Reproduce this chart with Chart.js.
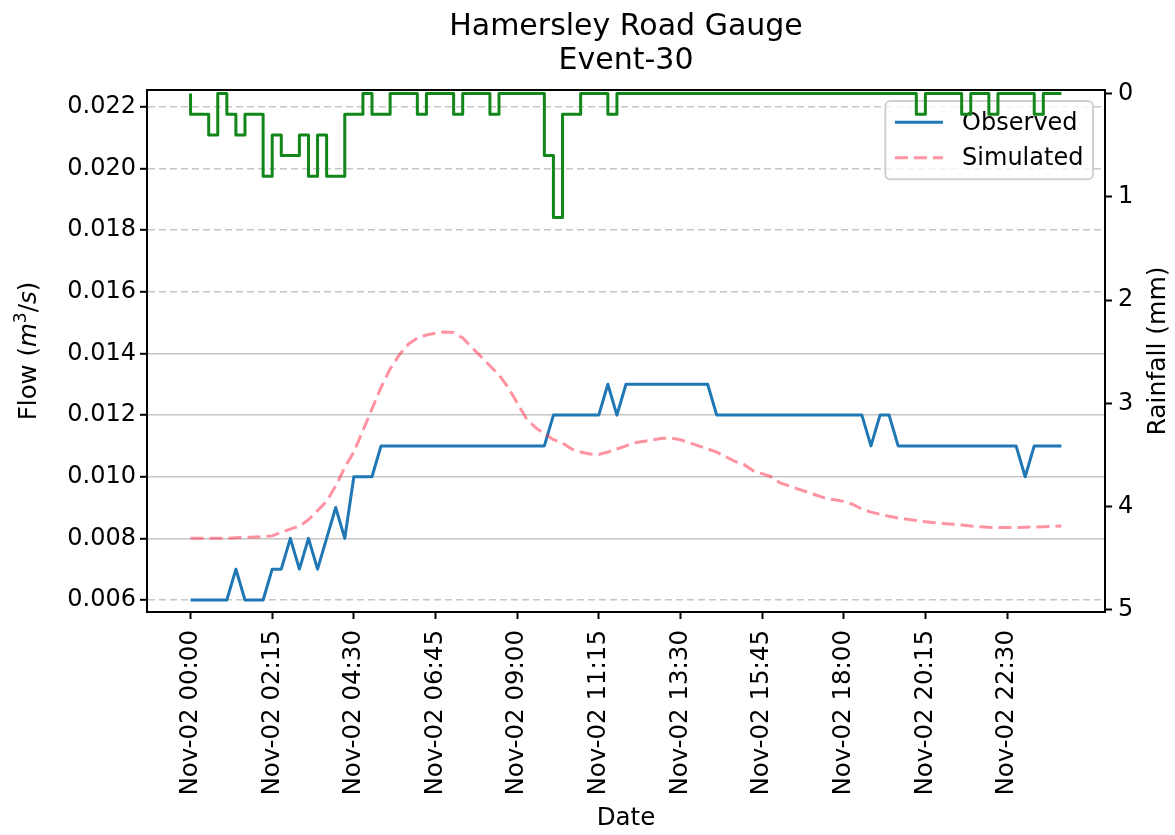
<!DOCTYPE html>
<html>
<head>
<meta charset="utf-8">
<title>Hamersley Road Gauge - Event-30</title>
<script src="https://cdn.jsdelivr.net/npm/chart.js@4.4.1/dist/chart.umd.min.js"></script>
<style>
  html, body { margin: 0; padding: 0; background: #fff; }
  #wrap { width: 1175px; height: 835px; }
</style>
</head>
<body>
<div id="wrap"><canvas id="flowChart" width="1175" height="835"></canvas></div>
<script>
// Readings every 15 minutes, Nov-02 00:00 to 24:00
const stepMinutes = 15;

// Flow (m3/s)
const observedFlow = [
  0.006, 0.006, 0.006, 0.006, 0.006, 0.007, 0.006, 0.006, 0.006, 0.007,
  0.007, 0.008, 0.007, 0.008, 0.007, 0.008, 0.009, 0.008, 0.010, 0.010,
  0.010, 0.011, 0.011, 0.011, 0.011, 0.011, 0.011, 0.011, 0.011, 0.011,
  0.011, 0.011, 0.011, 0.011, 0.011, 0.011, 0.011, 0.011, 0.011, 0.011,
  0.012, 0.012, 0.012, 0.012, 0.012, 0.012, 0.013, 0.012, 0.013, 0.013,
  0.013, 0.013, 0.013, 0.013, 0.013, 0.013, 0.013, 0.013, 0.012, 0.012,
  0.012, 0.012, 0.012, 0.012, 0.012, 0.012, 0.012, 0.012, 0.012, 0.012,
  0.012, 0.012, 0.012, 0.012, 0.012, 0.011, 0.012, 0.012, 0.011, 0.011,
  0.011, 0.011, 0.011, 0.011, 0.011, 0.011, 0.011, 0.011, 0.011, 0.011,
  0.011, 0.011, 0.010, 0.011, 0.011, 0.011, 0.011
];

const simulatedFlow = [
  0.0080, 0.0080, 0.0080, 0.0080, 0.0080, 0.00802, 0.00803, 0.00804, 0.00806, 0.00808,
  0.0082, 0.0083, 0.0084, 0.0086, 0.0089, 0.0092, 0.0097, 0.0103, 0.0108, 0.0115,
  0.0122, 0.0129, 0.0135, 0.01395, 0.0143, 0.0145, 0.0146, 0.01466, 0.0147, 0.01468,
  0.0145, 0.0142, 0.0139, 0.0136, 0.0133, 0.0129, 0.0124, 0.0119, 0.0116, 0.0114,
  0.0112, 0.0111, 0.0109, 0.0108, 0.01074, 0.01072, 0.0108, 0.0109, 0.0110, 0.0111,
  0.01115, 0.0112, 0.01125, 0.01125, 0.0112, 0.0111, 0.0110, 0.0109, 0.0108, 0.01065,
  0.0105, 0.0104, 0.0102, 0.0101, 0.0100, 0.0098, 0.0097, 0.0096, 0.0095, 0.0094,
  0.0093, 0.00925, 0.0092, 0.0091, 0.00895, 0.00885, 0.00878, 0.00872, 0.00866, 0.00862,
  0.00858, 0.00854, 0.00851, 0.00848, 0.00846, 0.00843, 0.0084, 0.00838, 0.00836, 0.00835,
  0.00835, 0.00835, 0.00836, 0.00837, 0.00838, 0.00839, 0.0084
];

// Rainfall (mm) in each 15-minute interval ending at the reading
const rainfall = [
  0, 0.2, 0.2, 0.4, 0, 0.2, 0.4, 0.2, 0.2, 0.8,
  0.4, 0.6, 0.6, 0.4, 0.8, 0.4, 0.8, 0.8, 0.2, 0.2,
  0, 0.2, 0.2, 0, 0, 0, 0.2, 0, 0, 0,
  0.2, 0, 0, 0, 0.2, 0, 0, 0, 0, 0,
  0.6, 1.2, 0.2, 0.2, 0, 0, 0, 0.2, 0, 0,
  0, 0, 0, 0, 0, 0, 0, 0, 0, 0,
  0, 0, 0, 0, 0, 0, 0, 0, 0, 0,
  0, 0, 0, 0, 0, 0, 0, 0, 0, 0,
  0, 0.2, 0, 0, 0, 0, 0.2, 0, 0, 0.2,
  0, 0, 0, 0, 0.2, 0, 0
];

const flowTicks = [0.006, 0.008, 0.010, 0.012, 0.014, 0.016, 0.018, 0.020, 0.022];
const rainTicks = [0, 1, 2, 3, 4, 5];
const dateTickMinutes = [0, 135, 270, 405, 540, 675, 810, 945, 1080, 1215, 1350];
const dateTickLabels = [
  'Nov-02 00:00', 'Nov-02 02:15', 'Nov-02 04:30', 'Nov-02 06:45', 'Nov-02 09:00',
  'Nov-02 11:15', 'Nov-02 13:30', 'Nov-02 15:45', 'Nov-02 18:00', 'Nov-02 20:15',
  'Nov-02 22:30'
];

const minutes = observedFlow.map((_, i) => i * stepMinutes);
const toPoints = values => values.map((v, i) => ({ x: minutes[i], y: v }));

const FAMILY = '"DejaVu Sans", sans-serif';
const tickFont = { family: FAMILY, size: 24 };
const dateFont = { family: FAMILY, size: 24.5 };
const gridGrey = '#c6c6c6';

// rotated text made of several runs (for the mathtext-style flow label)
function drawRotatedRuns(ctx, runs, cx, cy) {
  ctx.save();
  ctx.translate(cx, cy);
  ctx.rotate(-Math.PI / 2);
  let total = 0;
  runs.forEach(r => { ctx.font = r.font; r.w = ctx.measureText(r.text).width; total += r.w; });
  let x = -total / 2;
  ctx.fillStyle = '#000';
  ctx.textAlign = 'left';
  ctx.textBaseline = 'middle';
  runs.forEach(r => { ctx.font = r.font; ctx.fillText(r.text, x, r.dy || 0); x += r.w; });
  ctx.restore();
}

function drawLegendBox(chart) {
  const ctx = chart.ctx;
  const area = chart.chartArea;
  const fs = 24;
  const pad = 0.4 * fs, spacing = 0.5 * fs, handleLen = 2 * fs, textPad = 0.8 * fs, rowH = 23.5;
  const entries = chart.data.datasets.filter(ds => ds.yAxisID === 'y');
  ctx.save();
  ctx.font = fs + 'px ' + FAMILY;
  const textW = Math.max(...entries.map(e => ctx.measureText(e.label).width));
  const w = pad * 2 + handleLen + textPad + textW;
  const h = pad * 2 + rowH * entries.length + spacing * (entries.length - 1);
  const x0 = area.right - 12 - w, y0 = area.top + 11;
  ctx.beginPath();
  ctx.roundRect(x0, y0, w, h, 5);
  ctx.fillStyle = 'rgba(255,255,255,0.8)';
  ctx.fill();
  ctx.strokeStyle = '#d0d0d0';
  ctx.lineWidth = 2;
  ctx.stroke();
  entries.forEach((ds, i) => {
    const cy = y0 + pad + rowH / 2 + i * (rowH + spacing);
    ctx.beginPath();
    ctx.setLineDash(ds.borderDash || []);
    ctx.strokeStyle = ds.borderColor;
    ctx.lineWidth = ds.borderWidth;
    ctx.moveTo(x0 + pad, cy);
    ctx.lineTo(x0 + pad + handleLen, cy);
    ctx.stroke();
    ctx.setLineDash([]);
    ctx.fillStyle = '#000';
    ctx.textAlign = 'left';
    ctx.textBaseline = 'middle';
    ctx.fillText(ds.label, x0 + pad + handleLen + textPad, cy + 1);
  });
  ctx.restore();
}

const gaugeDecor = {
  id: 'gaugeDecor',
  afterDatasetDraw(chart, args) {
    // legend sits above the flow lines but under the rainfall trace
    if (chart.data.datasets[args.index].label === 'Simulated') drawLegendBox(chart);
  },
  afterDraw(chart) {
    const ctx = chart.ctx;
    const a = chart.chartArea;
    ctx.save();
    // top spine
    ctx.strokeStyle = '#000';
    ctx.lineWidth = 2;
    ctx.beginPath();
    ctx.moveTo(a.left - 1, a.top);
    ctx.lineTo(a.right + 1, a.top);
    ctx.stroke();
    // title
    const cx = (a.left + a.right) / 2;
    ctx.fillStyle = '#000';
    ctx.textAlign = 'center';
    ctx.textBaseline = 'middle';
    ctx.font = '30px ' + FAMILY;
    ctx.fillText('Hamersley Road Gauge', cx, 27);
    ctx.fillText('Event-30', cx, 61);
    ctx.restore();

    const midY = (a.top + a.bottom) / 2;
    drawRotatedRuns(ctx, [
      { text: 'Flow (', font: '24.5px ' + FAMILY },
      { text: 'm', font: 'italic 24.5px ' + FAMILY },
      { text: '3', font: '17px ' + FAMILY, dy: -8 },
      { text: '/', font: '24.5px ' + FAMILY },
      { text: 's', font: 'italic 24.5px ' + FAMILY },
      { text: ')', font: '24.5px ' + FAMILY }
    ], 30, midY);
    drawRotatedRuns(ctx, [{ text: 'Rainfall (mm)', font: '25px ' + FAMILY }], 1158, midY);
  }
};

new Chart(document.getElementById('flowChart'), {
  type: 'line',
  data: {
    datasets: [
      {
        label: 'Observed',
        data: toPoints(observedFlow),
        yAxisID: 'y',
        borderColor: '#1f77b4',
        borderWidth: 3,
        borderJoinStyle: 'round',
        pointRadius: 0,
        order: 2
      },
      {
        label: 'Simulated',
        data: toPoints(simulatedFlow),
        yAxisID: 'y',
        borderColor: 'rgba(255, 40, 70, 0.5)',
        borderDash: [13, 6],
        borderWidth: 3,
        pointRadius: 0,
        order: 1
      },
      {
        label: 'Rainfall',
        data: toPoints(rainfall),
        yAxisID: 'rain',
        stepped: 'after',
        borderColor: '#11871a',
        borderWidth: 3,
        borderJoinStyle: 'round',
        pointRadius: 0,
        order: 0
      }
    ]
  },
  options: {
    responsive: false,
    animation: false,
    devicePixelRatio: 1,
    layout: { padding: { top: 90, left: 0, right: 0, bottom: 0 } },
    plugins: {
      legend: { display: false },
      tooltip: { enabled: false },
      title: { display: false }
    },
    scales: {
      x: {
        type: 'linear',
        position: 'bottom',
        min: -72,
        max: 1512,
        afterFit: s => { s.height = 223; },
        afterBuildTicks: s => { s.ticks = dateTickMinutes.map(v => ({ value: v })); },
        grid: { drawOnChartArea: false, drawTicks: true, tickLength: 7, tickColor: '#000', tickWidth: 2 },
        border: { color: '#000', width: 2 },
        ticks: {
          autoSkip: false,
          minRotation: 90,
          maxRotation: 90,
          padding: 11,
          color: '#000',
          font: dateFont,
          callback: (v, i) => dateTickLabels[i]
        },
        title: { display: true, text: 'Date', color: '#000', font: dateFont, padding: { top: 0, bottom: 2 } }
      },
      y: {
        position: 'left',
        min: 0.00561,
        max: 0.02255,
        afterFit: s => { s.width = 147; },
        afterBuildTicks: s => { s.ticks = flowTicks.map(v => ({ value: v })); },
        grid: {
          color: gridGrey,
          lineWidth: 1.6,
          drawTicks: true,
          tickLength: 7,
          tickColor: '#000',
          tickWidth: 2
        },
        border: {
          color: '#000',
          width: 2,
          dash: c => (c.tick && c.tick.value > 0.007 && c.tick.value < 0.015) ? [] : [7, 4]
        },
        ticks: { padding: 4, color: '#000', font: tickFont, callback: v => v.toFixed(3) }
      },
      rain: {
        position: 'right',
        reverse: true,
        min: -0.035,
        max: 5.02,
        afterFit: s => { s.width = 70; },
        afterBuildTicks: s => { s.ticks = rainTicks.map(v => ({ value: v })); },
        grid: { drawOnChartArea: false, drawTicks: true, tickLength: 7, tickColor: '#000', tickWidth: 2 },
        border: { color: '#000', width: 2 },
        ticks: { padding: 6, color: '#000', font: tickFont, callback: v => String(v) }
      }
    }
  },
  plugins: [gaugeDecor]
});
</script>
</body>
</html>
